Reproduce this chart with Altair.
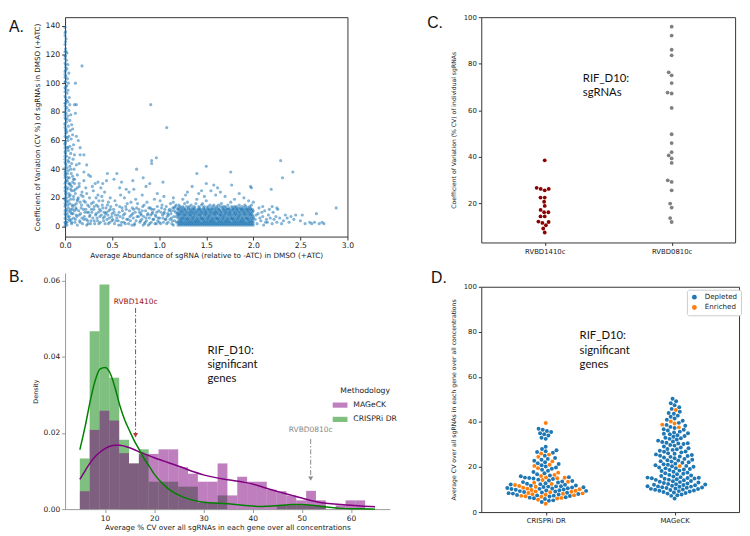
import altair as alt
import numpy as np
import pandas as pd

FONT = "DejaVu Sans"
ANNO_FONT = "Lato"
LETTER_FONT = "Liberation Sans"

# ---------------- Panel A: scatter (x = abundance, y = CV %) ----------------
A_SPIKE = [(0.0,139),(0.005,136),(0.0,133),(0.01,131),(0.0,127),(0.005,124),(0.01,122),(0.02,121),(0.0,119),
    (0.015,116),(0.005,113),(0.03,113),(0.02,110),(0.0,108),(0.04,107),(0.01,105),(0.025,103),(0.0,101),(0.035,100),
    (0.015,98),(0.005,96),(0.03,95),(0.02,93),(0.0,91),(0.045,90),(0.01,88),(0.03,87),(0.05,85),(0.0,84),(0.02,83),
    (0.04,81),(0.01,79),(0.06,78),(0.03,77),(0.0,76),(0.05,74),(0.015,73),(0.07,71),(0.035,70),(0.0,69),(0.055,67),
    (0.02,66),(0.08,64),(0.04,63),(0.01,62),(0.065,61),(0.03,60),(0.0,58),(0.09,57),(0.05,56),(0.02,55),(0.075,54),
    (0.035,53),(0.0,52),(0.06,51),(0.1,50),(0.015,49),(0.045,48),(0.085,47),(0.03,46),(0.0,45),(0.07,44),(0.12,43),
    (0.05,42),(0.02,41),(0.095,40),(0.035,39),(0.0,38),(0.065,37),(0.13,36),(0.01,35),(0.045,34),(0.1,33),(0.025,32),
    (0.08,31),(0.0,30),(0.055,29),(0.15,28),(0.03,27),(0.11,26),(0.07,25),(0.01,24),(0.04,23),(0.17,22),(0.09,21),
    (0.0,20),(0.06,19),(0.13,18),(0.02,17),(0.05,16),(0.1,15),(0.0,14),(0.035,13),(0.08,12),(0.015,11),(0.06,10),
    (0.0,9),(0.12,8),(0.03,7),(0.09,6),(0.01,5),(0.05,4),(0.0,3),(0.07,2),(0.02,1),(0.0,0.5),
    (0.0,57),(0.005,53),(0.0,47),(0.01,43),(0.005,39),(0.0,36),(0.01,32),(0.005,28),(0.0,25),(0.01,22),(0.005,18),
    (0.0,16),(0.01,12),(0.005,8),(0.0,6),(0.01,3),(0.005,65),(0.0,72),(0.01,68),(0.0,80),(0.005,86),(0.0,94),
    (0.01,98),(0.0,104),(0.005,111),(0.0,117),(0.0,122),(0.005,129),(0.0,135),(0.025,37),(0.04,30),(0.02,26),
    (0.045,21),(0.03,15),(0.025,9),(0.04,5),(0.02,3),(0.045,11),(0.015,20),(0.03,34),
    (0.005,2),(0.0,11),(0.005,15),(0.0,19),(0.005,23),(0.0,27),(0.005,31),(0.0,34),(0.005,37),(0.0,41),(0.005,44),
    (0.0,49),(0.005,51),(0.0,55),(0.005,59),(0.0,63),(0.005,67),(0.0,71),(0.005,75),(0.0,78),(0.005,82),(0.0,86),
    (0.005,90),(0.0,97),(0.005,101),(0.0,106),(0.005,109),(0.0,114),(0.005,119)]
A_SPIKE_OUT = [(0.11,100),(0.1,85),(0.12,85),(0.11,79),(0.18,112),(0.14,60),(0.16,55),(0.16,50),(0.2,50),
    (0.12,63),(0.08,68),(0.15,44),(0.2,38),(0.23,43),(0.25,36)]
A_LEFT = [(0.15,30),(0.2,32),(0.27,35),(0.32,30),(0.38,27),(0.44,32),(0.3,25),(0.22,27),(0.18,24),(0.35,22),
    (0.42,24),(0.48,20),(0.26,20),(0.14,20),(0.2,18),(0.3,17),(0.4,18),(0.12,16),(0.24,15),(0.35,14),(0.45,15),
    (0.17,13),(0.28,12),(0.38,11),(0.48,12),(0.1,11),(0.21,10),(0.33,9),(0.43,9),(0.15,8),(0.26,7),(0.37,7),
    (0.47,6),(0.11,5),(0.2,5),(0.31,4),(0.41,4),(0.16,3),(0.27,2),(0.36,2),(0.46,2),(0.13,1),(0.23,1),(0.07,9),
    (0.08,14),(0.09,19),(0.11,23),(0.13,27),(0.1,30),(0.08,35),(0.25,10),(0.19,21),(0.29,28),(0.4,13),(0.34,6),
    (0.44,10),(0.22,12),(0.16,17),(0.31,14),(0.06,12),(0.06,26),(0.07,3),(0.12,12),(0.18,6),(0.24,4),(0.28,16),
    (0.36,18),(0.42,7),(0.5,9),(0.5,4),(0.46,17),(0.33,20),(0.39,21),(0.23,23),
    (0.035,18),(0.045,7),(0.055,22),(0.065,5),(0.075,15),(0.085,9),(0.095,25),(0.105,3),(0.115,13),(0.125,7),
    (0.135,19),(0.145,11),(0.155,4),(0.165,9),(0.175,15),(0.185,2),(0.195,12),(0.205,7),(0.215,17),(0.225,5),
    (0.235,10),(0.245,2),(0.255,14),(0.265,8),(0.275,4),(0.285,10),(0.295,6),(0.305,12),(0.315,2),(0.325,8),
    (0.335,15),(0.345,4),(0.355,10),(0.365,12),(0.375,3),(0.385,8),(0.395,15),(0.405,6),(0.415,10),(0.425,2),
    (0.435,13),(0.445,5),(0.455,8),(0.465,11),(0.475,3),(0.485,14),(0.495,7),(0.05,30),(0.07,28),(0.09,33),
    (0.04,45),(0.06,40),(0.03,55),(0.025,62),(0.02,75),(0.015,88)]
A_MID = [(0.52,10),(0.55,6),(0.58,14),(0.6,3),(0.62,8),(0.65,12),(0.67,5),(0.7,17),(0.72,9),(0.74,2),(0.76,13),
    (0.78,7),(0.8,4),(0.82,11),(0.84,15),(0.86,6),(0.88,9),(0.9,2),(0.92,12),(0.94,5),(0.96,8),(0.98,14),(1.0,3),
    (1.02,10),(1.04,6),(1.06,12),(1.08,2),(1.1,8),(1.12,16),(1.14,4),(1.16,11),(1.18,7),(0.53,18),(0.57,1),
    (0.63,20),(0.66,16),(0.71,1),(0.75,19),(0.79,10),(0.83,1),(0.87,17),(0.91,8),(0.95,19),(0.99,6),(1.03,15),
    (1.07,5),(1.11,12),(1.15,1),(1.19,9),(0.54,4),(0.61,11),(0.69,7),(0.77,16),(0.85,3),(0.93,10),(1.01,18),
    (1.09,9),(1.17,14),(0.56,8),(0.64,2),(0.73,12),(0.81,8),(0.89,13),(0.97,2),(1.05,9),(1.13,6),(0.59,22),
    (0.68,24),(0.82,22),(0.98,23),(1.05,21),(1.15,20),
    (0.505,5),(0.515,12),(0.525,2),(0.535,8),(0.545,15),(0.565,4),(0.575,10),(0.585,7),(0.595,1),(0.605,13),
    (0.615,6),(0.625,3),(0.635,9),(0.645,14),(0.655,5),(0.675,2),(0.685,11),(0.695,4),(0.705,8),(0.715,13),
    (0.725,6),(0.735,1),(0.745,10),(0.755,4),(0.765,7),(0.785,12),(0.795,3),(0.805,9),(0.815,5),(0.825,14),
    (0.835,7),(0.845,2),(0.855,11),(0.865,4),(0.875,8),(0.885,1),(0.895,6),(0.905,13),(0.915,3),(0.925,9),
    (0.935,5),(0.945,12),(0.955,2),(0.965,7),(0.975,10),(0.985,4),(0.995,11),(1.005,6),(1.015,2),(1.025,13),
    (1.035,8),(1.045,3),(1.055,10),(1.065,5),(1.075,14),(1.085,7),(1.095,3),(1.105,11),(1.115,5),(1.125,9),
    (1.135,2),(1.145,13),(1.155,7),(1.165,4),(1.175,10),(1.185,3),(1.195,12)]
A_MID_OUT = [(0.55,37),(0.52,33),(0.6,31),(0.72,32),(0.76,40),(0.73,26),(0.83,34),(0.92,46),(0.92,44),(0.9,30),
    (0.97,48),(1.04,31),(0.86,28),(1.08,69),(0.91,85),(0.65,26),(0.45,37),(0.4,30),(0.35,31),(0.58,27)]
# dense band: x column -> y values
A_DENSE = {
    1.20:[1,3,6,8,10,13],1.21:[2,4,7,9,12,15],1.22:[1,3,5,8,11,14],1.23:[2,4,6,9,10,13],1.24:[1,3,5,7,11,12],
    1.25:[2,4,6,8,10,14],1.26:[1,3,6,9,11,13],1.27:[2,5,7,8,12,16],1.28:[1,3,4,8,10,12],1.29:[2,5,6,9,11,14],
    1.30:[1,3,5,7,10,17],1.31:[2,4,6,8,12,13],1.32:[1,3,5,9,10,14],1.33:[2,4,7,8,11,12],1.34:[1,3,6,8,10,15],
    1.35:[2,4,5,9,11,13],1.36:[1,3,6,7,10,12],1.37:[2,5,7,9,12,14],1.38:[1,3,4,8,11,13],1.39:[2,4,6,9,10,16],
    1.40:[1,3,5,7,11,19],1.41:[2,4,6,8,10,12],1.42:[1,3,5,9,12,14],1.43:[2,4,7,8,11,13],1.44:[1,3,6,8,10,12],
    1.45:[2,5,6,9,11,15],1.46:[1,3,5,7,10,16],1.47:[2,4,6,9,12,13],1.48:[1,3,5,8,11,14],1.49:[2,4,7,9,10,12],
    1.50:[1,3,6,8,11,18],1.51:[2,4,5,9,10,13],1.52:[1,3,6,7,12,14],1.53:[2,5,7,8,11,12],1.54:[1,3,4,9,10,15],
    1.55:[2,4,6,8,11,13],1.56:[1,3,5,7,10,12],1.57:[2,4,6,9,12,14],1.58:[1,3,5,8,10,15],1.59:[2,4,7,9,11,13],
    1.60:[1,3,6,8,10,12],1.61:[2,5,6,9,11,14],1.62:[1,3,5,7,10,13],1.63:[2,4,6,9,12,15],1.64:[1,3,5,8,11,12],
    1.65:[2,4,7,8,10,14],1.66:[1,3,6,9,11,16],1.67:[2,4,5,8,10,13],1.68:[1,3,6,7,12,14],1.69:[2,5,7,9,11,12],
    1.70:[1,3,4,8,10,14],1.71:[2,4,6,9,11,13],1.72:[1,3,5,7,10,12],1.73:[2,4,6,8,12,15],1.74:[1,3,5,9,10,13],
    1.75:[2,4,7,8,11,12],1.76:[1,3,6,9,10,17],1.77:[2,5,6,8,11,14],1.78:[1,3,5,7,12,13],1.79:[2,4,6,9,10,12],
    1.80:[1,3,5,8,11,14],1.81:[2,4,7,9,10,13],1.82:[1,3,6,8,12,14],1.83:[2,4,5,9,11,12],1.84:[1,3,6,7,10,13],
    1.85:[2,5,7,8,11,15],1.86:[1,3,4,9,10,13],1.87:[2,4,6,8,12,12],1.88:[1,3,5,7,11,14],1.89:[2,4,6,9,10,12],
    1.90:[1,3,5,8,11,13],1.91:[2,4,7,9,10,15],1.92:[1,3,6,8,12,14],1.93:[2,5,6,9,11,12],1.94:[1,3,5,7,10,13],
    1.95:[2,4,6,8,11,12],1.96:[1,3,5,9,10,14],1.97:[2,4,7,8,12,13],1.98:[1,3,6,9,11,15],1.99:[2,4,5,8,10,12],
    2.00:[1,3,6,7,11,17]}
A_TAIL = [(2.02,5),(2.04,2),(2.05,9),(2.06,13),(2.08,4),(2.1,7),(2.11,1),(2.12,11),(2.14,5),(2.15,3),(2.16,8),
    (2.18,6),(2.2,2),(2.21,10),(2.22,5),(2.24,7),(2.25,3),(2.26,12),(2.28,6),(2.3,2),(2.32,4),(2.34,8),(2.36,6),
    (2.38,3),(2.4,7),(2.43,5),(2.45,8),(2.5,4),(2.52,8),(2.55,2),(2.6,3),(2.62,2),(2.65,3),(2.67,9),(2.7,2),
    (2.73,3),(2.75,2),(2.88,13),(2.1,14),(2.2,14),(2.25,13),(2.03,8),(2.07,6),(2.09,10),(2.13,3),(2.17,12)]
A_RIGHT_OUT = [(1.4,37),(1.5,42),(1.58,29),(1.76,38),(1.77,29),(1.97,28),(1.98,27),(2.19,26),(2.29,46),(2.31,34),
    (2.42,38),(1.62,27),(1.55,25),(1.3,24),(1.35,28),(1.45,25),(1.6,22),(1.7,21),(1.85,23),(1.9,20),(1.28,22),
    (1.5,30),(1.48,21),(1.65,24),(1.8,19),(1.95,18),(1.25,19),(1.42,23),(1.15,17),(1.18,15),(1.16,13),(1.13,11)]

# ---------------- Panel B: density histograms + KDE ----------------
B_BIN_START = 4.87
B_BIN_WIDTH = 2.0
B_CRISPRI = [0.0133,0.0467,0.059,0.0345,0.0182,0.012,0.0157,0.0072,0.0072,0.0072,0.0059,0.0059,0.0017,0.0017,
             0.0036,0,0,0,0,0,0.001,0.001,0.001,0.001,0.001,0,0,0,0,0]
B_MAGECK = [0.0047,0.0208,0.0258,0.0233,0.0147,0.012,0.0144,0.0145,0.0157,0.0157,0.011,0.0093,0.0072,0.0072,
            0.012,0.0036,0.0085,0.0072,0.0072,0.0051,0.0047,0.0036,0.0023,0.0048,0.0023,0,0.001,0.0023,0.0023,0]
KDE_G_X = [4.87,6,7,8,9,10,11,12,13,14,15,16,17,18,19,20,22,24,26,28,30,32,34,36,38,40,42,44,46,48,50,52,54,56,58,60,62,64.87]
KDE_G_Y = [0.0156,0.022,0.0285,0.0338,0.0368,0.0372,0.0358,0.0320,0.0272,0.0234,0.0205,0.0178,0.0155,0.0131,
           0.0112,0.0092,0.0063,0.0043,0.0031,0.0023,0.0018,0.0016,0.0015,0.0013,0.0010,0.0008,0.0007,0.0008,
           0.0010,0.0012,0.0012,0.0010,0.0007,0.0004,0.0002,0.0001,0.0001,0.0]
KDE_P_X = [4.87,6,7,8,9,10,11,12,13,14,15,16,17,18,20,22,24,26,28,30,32,34,36,38,40,42,44,46,48,50,52,54,56,58,60,62,64.87]
KDE_P_Y = [0.0078,0.0102,0.0122,0.0138,0.015,0.0159,0.0165,0.0168,0.0168,0.0165,0.0161,0.0156,0.0150,0.0145,
           0.0135,0.0126,0.0117,0.0108,0.0098,0.0090,0.0084,0.0079,0.0075,0.0071,0.0066,0.0058,0.0050,0.0043,
           0.0036,0.0029,0.0022,0.0017,0.0014,0.0012,0.0010,0.0008,0.0006]

# ---------------- Panel C: individual sgRNA CV ----------------
C_GENES = ["RVBD1410c", "RVBD0810c"]
C_RV1410 = [38.5,26.2,25.6,26.2,26.7,22.5,22.5,20.7,18.9,17.2,16.2,16.2,14.4,14.4,12.0,11.6,12.2,10.6,9.2,7.5]
C_RV0810 = [95.9,92.1,86.0,83.6,76.3,75.0,71.7,67.6,67.2,61.0,49.7,45.9,42.0,40.6,39.3,37.4,29.9,29.2,25.6,
            19.9,18.2,13.7,12.0]

# ---------------- Panel D: gene-level CV swarm ----------------
D_METHODS = ["CRISPRi DR", "MAGeCK"]
D_CRISPRI_ENR = [3.7,5.5,6.0,6.3,6.8,7.0,7.2,7.5,7.7,7.9,8.1,8.3,8.5,8.8,9.0,9.2,9.5,9.8,10.1,10.4,10.8,11.2,
                 11.6,12.0,12.5,13.0,13.5,14.2,15.0,15.2,15.4,16.0,16.5,17.5,19.5,20.5,21.0,22.5,24.5,
                 25.5,26.0,39.5]
D_CRISPRI_DEP = [4.5,5.0,5.2,5.8,6.1,6.4,6.6,6.9,7.1,7.3,7.4,7.6,7.8,8.0,8.2,8.4,8.6,8.7,8.9,9.1,9.3,9.4,9.6,
                 9.7,9.9,10.0,10.2,10.3,10.5,10.6,10.7,10.9,11.0,11.1,11.3,11.4,11.5,11.7,11.8,12.1,12.2,12.4,
                 12.6,12.8,13.1,13.3,13.6,13.8,14.0,14.4,14.7,14.9,15.1,15.3,15.5,15.9,16.2,16.8,17.2,17.8,
                 18.3,18.8,19.2,19.8,20.2,20.8,21.3,21.7,22.1,22.8,23.2,23.6,24.0,25.0,26.3,26.7,27.0,27.4,28.0,
                 29.0,32.5,33.0,34.0,34.5,35.0,35.5,36.0,36.5,37.0]
D_MAGECK_ENR = [45.3,40.2,39.3,38.8,37.6,20.4]
D_MAGECK_DEP = [6.0,7.2,7.5,7.8,8.2,8.5,8.7,8.9,9.1,9.3,9.5,9.6,9.8,9.9,10.0,10.2,10.3,10.5,10.7,10.8,10.9,11.0,
                11.2,11.3,11.4,11.5,11.7,11.9,12.0,12.1,12.2,12.4,12.5,12.7,12.9,13.1,13.3,13.5,13.7,13.8,14.1,
                14.3,14.4,14.6,14.8,14.9,15.0,15.1,15.2,15.3,15.5,15.8,16.0,16.2,16.5,16.8,17.0,17.2,17.5,17.9,
                18.2,18.4,18.7,18.9,19.1,19.4,19.5,19.8,20.1,20.3,20.5,20.8,21.0,21.2,21.5,21.9,22.1,22.4,22.6,
                22.9,23.0,23.2,23.6,23.9,24.2,24.5,24.7,24.9,25.0,25.3,25.6,25.9,26.1,26.5,26.8,26.9,27.2,27.6,
                27.9,28.0,28.3,28.7,29.1,29.5,29.8,30.2,30.4,30.6,30.8,31.1,31.3,31.7,32.2,32.5,32.8,33.0,33.4,
                33.8,34.1,34.5,34.8,35.0,35.3,35.7,36.2,36.5,36.8,37.3,37.8,38.3,38.7,39.6,40.5,41.0,41.5,42.3,
                42.8,43.6,44.0,44.5,45.8,46.5,47.4,48.3,49.2,50.3]

# ---------------- sizes ----------------
WA, HA = 287, 223
WB, HB = 330, 240
WC, HC = 258, 229
WD, HD = 262, 229


def beeswarm(values, px_per_unit, diam):
    """Offsets (px) so that points of diameter diam do not overlap (swarm layout)."""
    vals = np.asarray(values, dtype=float)
    order = np.argsort(vals, kind="stable")
    placed = []
    offs = np.zeros(len(vals))
    for i in order:
        y = vals[i] * px_per_unit
        near = [(py, px) for (py, px) in placed if abs(py - y) < diam]
        cands = [0.0]
        for py, px in near:
            dx = np.sqrt(max(diam ** 2 - (py - y) ** 2, 0.0))
            cands += [px + dx, px - dx]
        cands.sort(key=lambda c: (round(abs(c), 6), c))
        for c in cands:
            if all((c - px) ** 2 + (y - py) ** 2 >= diam ** 2 - 1e-6 for py, px in near):
                offs[i] = c
                break
        placed.append((y, offs[i]))
    return offs


def ax(**kw):
    base = dict(labelFont=FONT, titleFont=FONT, labelColor="#222", titleColor="#222", grid=False,
                titleFontWeight="normal", tickColor="#333", tickSize=3.5, labelPadding=2,
                labelFlush=False, labelOverlap=False, domain=False)
    base.update(kw)
    return alt.Axis(**base)


def letter(txt, dx, dy):
    return alt.Chart(pd.DataFrame({"t": [txt]})).mark_text(
        font=LETTER_FONT, fontSize=16, align="left", baseline="alphabetic", color="#111"
    ).encode(text="t:N", x=alt.value(dx), y=alt.value(dy))


# ---------------- Panel A ----------------
pts = A_SPIKE + A_SPIKE_OUT + A_LEFT + A_MID + A_MID_OUT + A_TAIL + A_RIGHT_OUT
for xc, ys in A_DENSE.items():
    pts += [(xc, yv) for yv in ys]
dfA = pd.DataFrame(pts, columns=["abund", "cv"])
scatterA = alt.Chart(dfA).mark_circle(size=10, opacity=0.55, color="#1f77b4").encode(
    x=alt.X("abund:Q", scale=alt.Scale(domain=[0, 3], nice=False, zero=False),
            axis=ax(values=[0, 0.5, 1, 1.5, 2, 2.5, 3], format=".1f", labelFontSize=7.8, titleFontSize=7.4,
                    titlePadding=2, title="Average Abundance of sgRNA (relative to -ATC) in DMSO (+ATC)")),
    y=alt.Y("cv:Q", scale=alt.Scale(domain=[-7, 146], nice=False, zero=False),
            axis=ax(values=list(range(0, 141, 20)), labelFontSize=7.8, titleFontSize=7.3, titlePadding=4,
                    title="Coefficient of Variation (CV %) of sgRNAs in DMSO (+ATC)")),
)
panelA = alt.layer(scatterA, letter("A.", -57, 15)).properties(
    width=WA, height=HA, view=alt.ViewBackground(stroke="#333", strokeWidth=1))

# ---------------- Panel B ----------------
rows = []
for i, v in enumerate(B_CRISPRI):
    rows.append(("CRISPRi DR", B_BIN_START + i * B_BIN_WIDTH, B_BIN_START + (i + 1) * B_BIN_WIDTH, v))
for i, v in enumerate(B_MAGECK):
    rows.append(("MAGeCK", B_BIN_START + i * B_BIN_WIDTH, B_BIN_START + (i + 1) * B_BIN_WIDTH, v))
dfB = pd.DataFrame(rows, columns=["Methodology", "x0", "x1", "dens"])
dfB = dfB[dfB["dens"] > 0]

xB = alt.Scale(domain=[1.87, 67.87], nice=False, zero=False)
yB = alt.Scale(domain=[0, 0.062], nice=False, zero=False)
bx_axis = ax(values=[10, 20, 30, 40, 50, 60], labelFontSize=7.6, titleFontSize=7.4, titlePadding=2,
             domain=True, domainColor="#999", tickColor="#999",
             title="Average % CV over all sgRNAs in each gene over all concentrations")
by_axis = ax(values=[0, 0.01, 0.02, 0.03, 0.04, 0.05, 0.06], format=".2f", labelFontSize=7.6,
             titleFontSize=6.5, titlePadding=5, domain=True, domainColor="#999", tickColor="#999", title="Density")

hist = alt.Chart(dfB).mark_rect(opacity=0.5, strokeWidth=0).encode(
    x=alt.X("x0:Q", scale=xB, axis=bx_axis), x2="x1:Q",
    y=alt.Y("dens:Q", scale=yB, axis=by_axis), y2=alt.datum(0),
    color=alt.Color("Methodology:N",
                    scale=alt.Scale(domain=["MAGeCK", "CRISPRi DR"], range=["#800080", "#008000"]),
                    legend=alt.Legend(orient="none", legendX=272, legendY=116, title="Methodology",
                                      titleFont=FONT, titleFontSize=7.8, titleFontWeight="normal",
                                      titleColor="#222", titleAnchor="middle", titlePadding=3,
                                      labelFont=FONT, labelFontSize=7.8, labelColor="#222", labelOffset=6,
                                      symbolType="M-1,-0.35H1V0.35H-1Z", symbolSize=225, symbolOpacity=0.5,
                                      symbolStrokeWidth=0, rowPadding=2.5, padding=0)),
)
dfKG = pd.DataFrame({"x": KDE_G_X, "y": KDE_G_Y})
dfKP = pd.DataFrame({"x": KDE_P_X, "y": KDE_P_Y})
kdeG = alt.Chart(dfKG).mark_line(color="#008000", strokeWidth=1.5, interpolate="monotone").encode(
    x=alt.X("x:Q", scale=xB), y=alt.Y("y:Q", scale=yB))
kdeP = alt.Chart(dfKP).mark_line(color="#800080", strokeWidth=1.5, interpolate="monotone").encode(
    x=alt.X("x:Q", scale=xB), y=alt.Y("y:Q", scale=yB))

one = pd.DataFrame({"k": [0]})


def arrow(xv, y_from, y_to, color, label, label_y, label_color):
    rule = alt.Chart(one).mark_rule(color=color, strokeWidth=1, strokeDash=[5, 2, 1.5, 2]).encode(
        x=alt.datum(xv, scale=xB), y=alt.datum(y_from, scale=yB), y2=alt.datum(y_to + 0.0012))
    head = alt.Chart(one).mark_point(shape="triangle-down", filled=True, size=26, color=color, opacity=1).encode(
        x=alt.datum(xv, scale=xB), y=alt.datum(y_to + 0.0006, scale=yB))
    txt = alt.Chart(one).mark_text(font=FONT, fontSize=7.6, color=label_color, baseline="middle").encode(
        x=alt.datum(xv, scale=xB), y=alt.datum(label_y, scale=yB), text=alt.value(label))
    return [rule, head, txt]


annoB = alt.Chart(one).mark_text(font=ANNO_FONT, fontSize=11.5, align="left", baseline="middle",
                                 lineHeight=14.5, color="#111",
                                 text=["RIF_D10:", "significant", "genes"]).encode(
    x=alt.datum(30.8, scale=xB), y=alt.datum(0.0416, scale=yB))

panelB = alt.layer(
    hist, kdeP, kdeG,
    *arrow(16.2, 0.0528, 0.0188, "#b23a3a", "RVBD1410c", 0.0544, "#9b1010"),
    *arrow(51.8, 0.0184, 0.0074, "#8a8a8a", "RVBD0810c", 0.0207, "#888888"),
    annoB, letter("B.", -57, 9),
).properties(width=WB, height=HB)

# ---------------- Panel C ----------------
c_ppu = HC / (100 - 3.2)
c_vals = C_RV1410 + C_RV0810
c_cat = [0] * len(C_RV1410) + [1] * len(C_RV0810)
c_off = np.concatenate([beeswarm(C_RV1410, c_ppu, 4.3), beeswarm(C_RV0810, c_ppu, 4.3)])
dfC = pd.DataFrame({"cv": c_vals, "gene": [C_GENES[c] for c in c_cat],
                    "xpos": np.array(c_cat) + c_off * 2.0 / WC})
xC = alt.Scale(domain=[-0.5, 1.5], nice=False, zero=False)
yC = alt.Scale(domain=[3.2, 100], nice=False, zero=False)
pointsC = alt.Chart(dfC).mark_circle(size=15, opacity=1).encode(
    x=alt.X("xpos:Q", scale=xC,
            axis=ax(values=[0, 1], labelExpr="datum.value == 0 ? 'RVBD1410c' : 'RVBD0810c'",
                    labelFontSize=7, tickSize=3, title=None)),
    y=alt.Y("cv:Q", scale=yC,
            axis=ax(values=[20, 40, 60, 80, 100], labelFontSize=7, tickSize=3, titleFontSize=6.2, titlePadding=7,
                    title="Coefficient of Variation (% CV) of individual sgRNAs")),
    color=alt.Color("gene:N", scale=alt.Scale(domain=C_GENES, range=["#8b0000", "#808080"]), legend=None),
)
annoC = alt.Chart(one).mark_text(font=ANNO_FONT, fontSize=11.5, align="left", baseline="middle",
                                 lineHeight=14, color="#111", text=["RIF_D10:", "sgRNAs"]).encode(
    x=alt.datum(0.3, scale=xC), y=alt.datum(73.2, scale=yC))
panelC = alt.layer(pointsC, annoC, letter("C.", -55, 11)).properties(
    width=WC, height=HC, view=alt.ViewBackground(stroke="#333", strokeWidth=1))

# ---------------- Panel D ----------------
d_ppu = HD / 100.0
cr_vals = D_CRISPRI_DEP + D_CRISPRI_ENR
cr_hue = ["Depleted"] * len(D_CRISPRI_DEP) + ["Enriched"] * len(D_CRISPRI_ENR)
mg_vals = D_MAGECK_DEP + D_MAGECK_ENR
mg_hue = ["Depleted"] * len(D_MAGECK_DEP) + ["Enriched"] * len(D_MAGECK_ENR)
cr_off = beeswarm(cr_vals, d_ppu, 4.4)
mg_off = beeswarm(mg_vals, d_ppu, 4.4)
dfD = pd.DataFrame({
    "cv": cr_vals + mg_vals,
    "Direction": cr_hue + mg_hue,
    "xpos": np.concatenate([0 + cr_off * 2.0 / WD, 1 + mg_off * 2.0 / WD]),
})
xD = alt.Scale(domain=[-0.5, 1.5], nice=False, zero=False)
yD = alt.Scale(domain=[0, 100], nice=False, zero=False)
pointsD = alt.Chart(dfD).mark_circle(size=16, opacity=1).encode(
    x=alt.X("xpos:Q", scale=xD,
            axis=ax(values=[0, 1], labelExpr="datum.value == 0 ? 'CRISPRi DR' : 'MAGeCK'",
                    labelFontSize=7, tickSize=3, title=None)),
    y=alt.Y("cv:Q", scale=yD,
            axis=ax(values=[0, 20, 40, 60, 80, 100], labelFontSize=7, tickSize=3, titleFontSize=6.3,
                    titlePadding=7, title="Average CV over all sgRNAs in each gene over all concentrations")),
    color=alt.Color("Direction:N", scale=alt.Scale(domain=["Depleted", "Enriched"], range=["#1f77b4", "#ff7f0e"]),
                    legend=alt.Legend(orient="none", legendX=209, legendY=3, title=None, symbolType="circle",
                                      symbolSize=24, symbolStrokeWidth=0, labelFont=FONT, labelFontSize=7.2,
                                      labelColor="#222", labelOffset=7, rowPadding=2.5, padding=4,
                                      strokeColor="#cccccc", cornerRadius=2, fillColor="white")),
    order=alt.Order("cv:Q"),
)
annoD = alt.Chart(one).mark_text(font=ANNO_FONT, fontSize=11.5, align="left", baseline="middle",
                                 lineHeight=14.5, color="#111",
                                 text=["RIF_D10:", "significant", "genes"]).encode(
    x=alt.datum(0.263, scale=xD), y=alt.datum(78.0, scale=yD))
panelD = alt.layer(pointsD, annoD, letter("D.", -51, -4)).properties(
    width=WD, height=HD, view=alt.ViewBackground(stroke="#333", strokeWidth=1))

left_col = alt.vconcat(panelA, panelB, spacing=37, bounds="flush").resolve_scale(
    color="independent", x="independent", y="independent")
right_col = alt.vconcat(panelC, panelD, spacing=45, bounds="flush").resolve_scale(
    color="independent", x="independent", y="independent")

chart = alt.hconcat(left_col, right_col, spacing=29).resolve_scale(
    color="independent", x="independent", y="independent"
).properties(padding=0, background="white").configure_view(stroke=None)

chart.save("out.html", embed_options={"renderer": "svg", "actions": False})
